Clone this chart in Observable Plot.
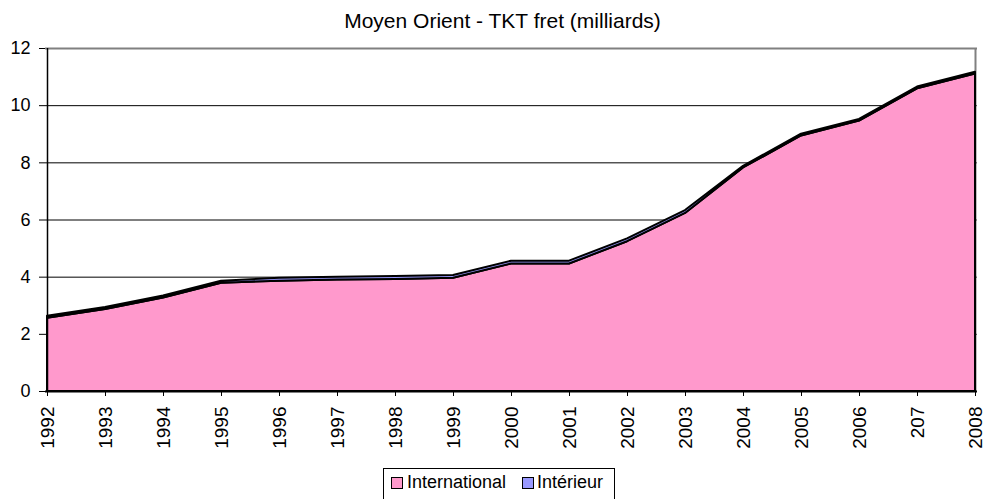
<!DOCTYPE html>
<html>
<head>
<meta charset="utf-8">
<script src="https://cdn.jsdelivr.net/npm/d3@7"></script>
<script src="https://cdn.jsdelivr.net/npm/@observablehq/plot@0.6"></script>
<style>
  html, body { margin: 0; padding: 0; background: #fff; overflow: hidden; }
  body { font-family: "Liberation Sans", Arial, sans-serif; color: #000; width: 985px; height: 499px; position: relative; }
  #title { width: 985px; box-sizing: border-box; padding-left: 20px; padding-top: 9px; height: 36px; line-height: 24px; font-size: 21px; text-align: center; }
  #chart svg { display: block; }
  #legend { position: absolute; left: 383px; top: 468px; width: 230px; height: 40px; border: 1px solid #000; font-size: 18px; }
  .sw { position: absolute; top: 8px; width: 10px; height: 10px; border: 1px solid #000; }
  .lab { position: absolute; top: 3px; line-height: 20px; white-space: nowrap; }
</style>
</head>
<body>
<div id="title">Moyen Orient - TKT fret (milliards)</div>
<div id="chart"></div>
<div id="legend"></div>
<script>
// ---- data ----
const years = ["1992","1993","1994","1995","1996","1997","1998","1999","2000","2001","2002","2003","2004","2005","2006","207","2008"];
const seriesNames = ["International", "Intérieur"];
const international = [2.56, 2.87, 3.27, 3.79, 3.86, 3.90, 3.92, 3.96, 4.46, 4.46, 5.24, 6.23, 7.82, 8.94, 9.46, 10.59, 11.11];
const interieur     = [0.07, 0.07, 0.07, 0.07, 0.10, 0.10, 0.10, 0.10, 0.10, 0.10, 0.10, 0.10, 0.06, 0.06, 0.06, 0.06, 0.06];
const yTicks = [0, 2, 4, 6, 8, 10, 12];
const colors = ["#FF99CC", "#9999FF"];

const data = years.flatMap((yr, i) => [
  {year: yr, series: seriesNames[0], value: international[i]},
  {year: yr, series: seriesNames[1], value: interieur[i]}
]);

const chart = Plot.plot({
  width: 985,
  height: 432,
  marginTop: 12,
  marginBottom: 77,
  marginLeft: 45,
  marginRight: 8,
  style: {fontFamily: "'Liberation Sans', Arial, sans-serif", fontSize: "18px", color: "#000", background: "#fff"},
  x: {type: "point", domain: years, padding: 0},
  y: {domain: [0, 12]},
  color: {domain: seriesNames, range: colors},
  marks: [
    Plot.gridY(yTicks.filter(t => t > 0 && t < 12), {stroke: "#000", strokeOpacity: 1, strokeWidth: 1}),
    Plot.ruleY([12], {stroke: "#808080", strokeWidth: 2}),
    Plot.ruleX([years[years.length - 1]], {stroke: "#808080", strokeWidth: 2}),
    Plot.areaY(data, {x: "year", y: "value", z: "series", fill: "series", order: seriesNames, stroke: "#000", strokeWidth: 2, strokeLinejoin: "round"}),
    Plot.ruleX([years[0]], {stroke: "#000", strokeWidth: 1.5}),
    Plot.ruleY([0], {stroke: "#000", strokeWidth: 2}),
    Plot.axisY({ticks: yTicks, tickSize: 6, tickPadding: 9, fontSize: 18, label: null}),
    Plot.axisX({tickRotate: -90, tickSize: 5, tickPadding: 10, fontSize: 19, label: null})
  ]
});
document.getElementById("chart").appendChild(chart);

// legend
const legend = document.getElementById("legend");
const items = [
  {swLeft: 7, labLeft: 23},
  {swLeft: 138, labLeft: 153}
];
seriesNames.forEach((name, i) => {
  const sw = document.createElement("div");
  sw.className = "sw";
  sw.style.left = items[i].swLeft + "px";
  sw.style.background = colors[i];
  legend.appendChild(sw);
  const lab = document.createElement("div");
  lab.className = "lab";
  lab.style.left = items[i].labLeft + "px";
  lab.textContent = name;
  legend.appendChild(lab);
});
</script>
</body>
</html>
